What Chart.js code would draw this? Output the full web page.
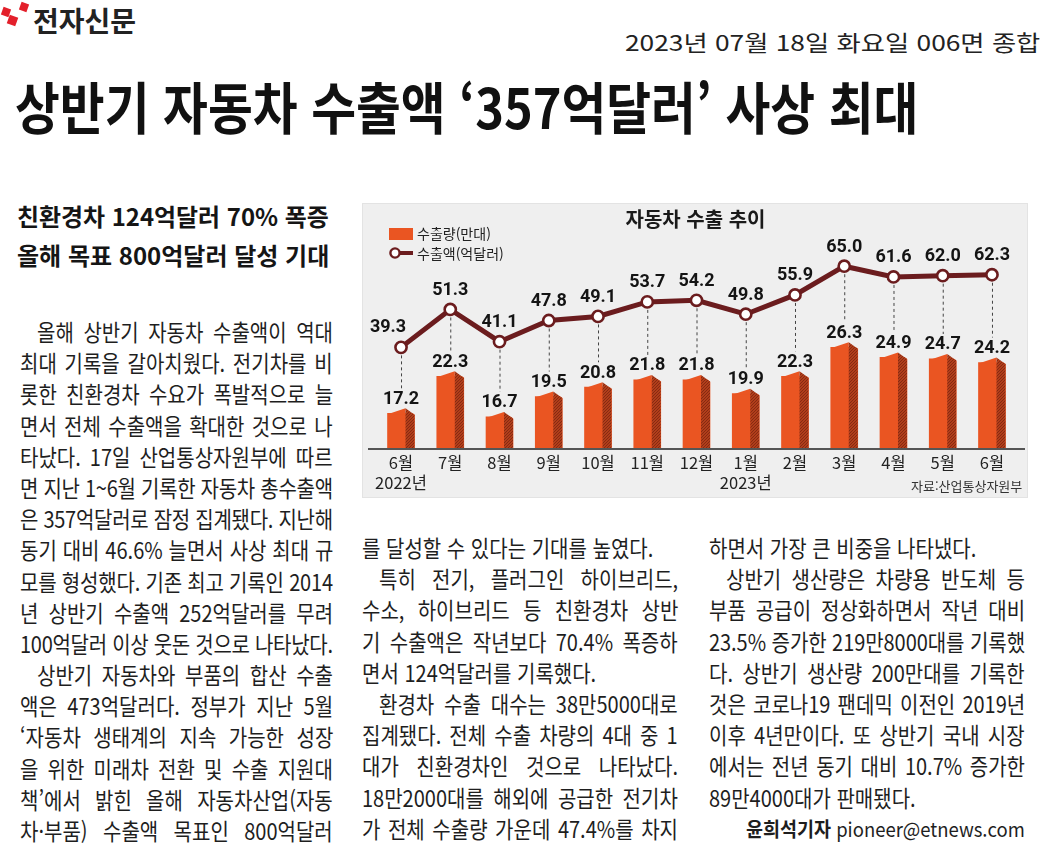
<!DOCTYPE html>
<html lang="ko">
<head>
<meta charset="utf-8">
<title>상반기 자동차 수출액 ‘357억달러’ 사상 최대</title>
<script src="https://cdn.jsdelivr.net/npm/chart.js@4.4.0/dist/chart.umd.min.js"></script>
<style>
  html, body { margin: 0; padding: 0; background: #fff; }
  body { width: 1044px; height: 859px; position: relative; overflow: hidden;
         font-family: "Noto Sans CJK KR", "Noto Sans", sans-serif; color: #1c1c1c; }
  .abs { position: absolute; white-space: nowrap; }
  .fit { display: inline-block; transform-origin: 0 0; }
  .logo-dot { position: absolute; width: 8px; height: 8px; background: #e3202b; transform: rotate(20deg); }
  .col { position: absolute; transform-origin: 0 0; font-size: 23px; line-height: 31.2px; color: #1e1e1e; }
  .ln { height: 31.2px; white-space: nowrap; }
  .ln span { display: inline-block; white-space: nowrap; }
  #panel { position: absolute; left: 362px; top: 203px; width: 666px; height: 295px;
           background: #efefef; box-sizing: border-box; border: 1px solid #e3e3e3; }
  #chartbox { position: absolute; left: 362px; top: 203px; width: 666px; height: 295px; }
</style>
</head>
<body>

<!-- 머리 -->
<div class="logo-dot" style="left:2px;top:8px"></div>
<div class="logo-dot" style="left:20px;top:3px"></div>
<div class="logo-dot" style="left:8px;top:16px;width:9px;height:9px"></div>
<div class="abs" style="left:33px;top:6px;font-size:28px;line-height:28px;font-weight:700;color:#222">전자신문</div>
<div class="abs fit" data-w="415" style="left:625px;top:30px;font-size:22px;line-height:22px;color:#222">2023년 07월 18일 화요일 006면 종합</div>

<div class="abs fit" data-w="903" style="left:15px;top:77px;font-size:56px;line-height:56px;font-weight:700;color:#111">상반기 자동차 수출액 ‘357억달러’ 사상 최대</div>

<div class="abs fit" data-w="312" style="left:17px;top:204px;font-size:24px;line-height:24px;font-weight:700;color:#151515">친환경차 124억달러 70% 폭증</div>
<div class="abs fit" data-w="312" style="left:17px;top:243px;font-size:24px;line-height:24px;font-weight:700;color:#151515">올해 목표 800억달러 달성 기대</div>

<!-- 본문 1단 -->
<div class="col" style="left:20px;top:316px" data-w="313" data-s="0.87">
  <div class="ln in"><span>올해 상반기 자동차 수출액이 역대</span></div>
  <div class="ln"><span>최대 기록을 갈아치웠다. 전기차를 비</span></div>
  <div class="ln"><span>롯한 친환경차 수요가 폭발적으로 늘</span></div>
  <div class="ln"><span>면서 전체 수출액을 확대한 것으로 나</span></div>
  <div class="ln"><span>타났다. 17일 산업통상자원부에 따르</span></div>
  <div class="ln"><span>면 지난 1~6월 기록한 자동차 총수출액</span></div>
  <div class="ln"><span>은 357억달러로 잠정 집계됐다. 지난해</span></div>
  <div class="ln"><span>동기 대비 46.6% 늘면서 사상 최대 규</span></div>
  <div class="ln"><span>모를 형성했다. 기존 최고 기록인 2014</span></div>
  <div class="ln"><span>년 상반기 수출액 252억달러를 무려</span></div>
  <div class="ln"><span>100억달러 이상 웃돈 것으로 나타났다.</span></div>
  <div class="ln in"><span>상반기 자동차와 부품의 합산 수출</span></div>
  <div class="ln"><span>액은 473억달러다. 정부가 지난 5월</span></div>
  <div class="ln"><span>‘자동차 생태계의 지속 가능한 성장</span></div>
  <div class="ln"><span>을 위한 미래차 전환 및 수출 지원대</span></div>
  <div class="ln"><span>책’에서 밝힌 올해 자동차산업(자동</span></div>
  <div class="ln"><span>차·부품) 수출액 목표인 800억달러</span></div>
</div>

<!-- 본문 2단 -->
<div class="col" style="left:362px;top:532px" data-w="316" data-s="0.87">
  <div class="ln end"><span>를 달성할 수 있다는 기대를 높였다.</span></div>
  <div class="ln in"><span>특히 전기, 플러그인 하이브리드,</span></div>
  <div class="ln"><span>수소, 하이브리드 등 친환경차 상반</span></div>
  <div class="ln"><span>기 수출액은 작년보다 70.4% 폭증하</span></div>
  <div class="ln end"><span>면서 124억달러를 기록했다.</span></div>
  <div class="ln in"><span>환경차 수출 대수는 38만5000대로</span></div>
  <div class="ln"><span>집계됐다. 전체 수출 차량의 4대 중 1</span></div>
  <div class="ln"><span>대가 친환경차인 것으로 나타났다.</span></div>
  <div class="ln"><span>18만2000대를 해외에 공급한 전기차</span></div>
  <div class="ln"><span>가 전체 수출량 가운데 47.4%를 차지</span></div>
</div>

<!-- 본문 3단 -->
<div class="col" style="left:709px;top:532px" data-w="316" data-s="0.87">
  <div class="ln end"><span>하면서 가장 큰 비중을 나타냈다.</span></div>
  <div class="ln in"><span>상반기 생산량은 차량용 반도체 등</span></div>
  <div class="ln"><span>부품 공급이 정상화하면서 작년 대비</span></div>
  <div class="ln"><span>23.5% 증가한 219만8000대를 기록했</span></div>
  <div class="ln"><span>다. 상반기 생산량 200만대를 기록한</span></div>
  <div class="ln"><span>것은 코로나19 팬데믹 이전인 2019년</span></div>
  <div class="ln"><span>이후 4년만이다. 또 상반기 국내 시장</span></div>
  <div class="ln"><span>에서는 전년 동기 대비 10.7% 증가한</span></div>
  <div class="ln end"><span>89만4000대가 판매됐다.</span></div>
</div>
<div class="abs fit" data-w="279" style="left:746px;top:818px;font-size:20px;line-height:22px;color:#1e1e1e"><b>윤희석기자</b> pioneer@etnews.com</div>

<!-- 그래픽 -->
<div id="panel"></div>
<div id="chartbox"><canvas id="grafica"></canvas></div>
<div class="abs" style="left:623px;top:209px;width:145px;text-align:center;font-size:20px;line-height:20px;font-weight:700;color:#1a1a1a">자동차 수출 추이</div>
<div class="abs" style="left:389px;top:228px;width:24px;height:12px;background:#ea5522"></div>
<div class="abs" style="left:417px;top:225px;font-size:14px;line-height:16px;color:#222">수출량(만대)</div>
<svg class="abs" style="left:388px;top:246px" width="28" height="14">
  <line x1="7" y1="7" x2="25" y2="7" stroke="#6b1c1e" stroke-width="4"/>
  <circle cx="7" cy="7" r="4.6" fill="#fff" stroke="#6b1c1e" stroke-width="2.4"/>
</svg>
<div class="abs" style="left:417px;top:245px;font-size:14px;line-height:16px;color:#222">수출액(억달러)</div>
<div class="abs" style="left:911px;top:478px;font-size:13px;line-height:16px;color:#333">자료:산업통상자원부</div>

<script>
// 자동차 수출 추이 (2022년 6월 ~ 2023년 6월)
const meses = [['6월', '2022년'], '7월', '8월', '9월', '10월', '11월', '12월', ['1월', '2023년'], '2월', '3월', '4월', '5월', '6월'];
const suchulryang = [17.2, 22.3, 16.7, 19.5, 20.8, 21.8, 21.8, 19.9, 22.3, 26.3, 24.9, 24.7, 24.2];  // 수출량(만대)
const suchulaek = [39.3, 51.3, 41.1, 47.8, 49.1, 53.7, 54.2, 49.8, 55.9, 65.0, 61.6, 62.0, 62.3];    // 수출액(억달러)

const FRONT = '#ea5522';
const SIDE_W = 9;
const LINE_COLOR = '#6b1c1e';

// 본문 줄 맞춤 (양쪽 정렬 + 장평)
function ajustarColumnas() {
    document.querySelectorAll('.col').forEach((col) => {
        const s = parseFloat(col.dataset.s);
        const W = parseFloat(col.dataset.w) / s;
        const indent = 17 / s;
        col.style.width = W + 'px';
        col.style.transform = 'scaleX(' + s + ')';
        col.querySelectorAll('.ln').forEach((ln) => {
            const sp = ln.firstElementChild;
            const ind = ln.classList.contains('in') ? indent : 0;
            if (ind) ln.style.paddingLeft = ind + 'px';
            const target = W - ind;
            const w = sp.offsetWidth;
            const huecos = (sp.textContent.match(/ /g) || []).length;
            if (w > target) {
                sp.style.letterSpacing = (-(w - target) / sp.textContent.length) + 'px';
            } else if (!ln.classList.contains('end') && huecos) {
                sp.style.wordSpacing = ((target - w) / huecos) + 'px';
            }
        });
    });
    document.querySelectorAll('.fit').forEach((el) => {
        const target = parseFloat(el.dataset.w);
        el.style.transform = 'scaleX(' + (target / el.offsetWidth) + ')';
    });
}

// 옆면 무늬
function patronLado(ctx) {
    const c = document.createElement('canvas');
    c.width = 3; c.height = 3;
    const g = c.getContext('2d');
    g.fillStyle = '#b13e1b';
    g.fillRect(0, 0, 3, 3);
    g.fillStyle = '#862a11';
    g.fillRect(0, 0, 1, 1);
    g.fillRect(2, 1, 1, 1);
    g.fillRect(1, 2, 1, 1);
    return ctx.createPattern(c, 'repeat');
}

const decor = {
    id: 'decor',
    beforeDatasetsDraw(chart) {
        const { ctx, chartArea } = chart;
        ctx.save();
        ctx.strokeStyle = '#555';
        ctx.lineWidth = 2;
        ctx.beginPath();
        ctx.moveTo(6, chartArea.bottom + 1);
        ctx.lineTo(chart.width - 3, chartArea.bottom + 1);
        ctx.stroke();
        ctx.restore();
    },
    afterDatasetsDraw(chart) {
        const { ctx, chartArea } = chart;
        const puntos = chart.getDatasetMeta(0).data;
        const barras = chart.getDatasetMeta(1).data;
        const lado = patronLado(ctx);
        ctx.save();

        barras.forEach((b) => {
            const x0 = b.x - b.width / 2;
            const x1 = b.x + b.width / 2;
            const xj = x1 - SIDE_W;
            const base = Math.min(b.base, chartArea.bottom);
            // 앞면 윗변을 오른쪽으로 올려 입체감
            ctx.fillStyle = FRONT;
            ctx.beginPath();
            ctx.moveTo(x0, b.y + 1);
            ctx.lineTo(xj, b.y - 5);
            ctx.lineTo(xj, b.y + 1);
            ctx.closePath();
            ctx.fill();
            ctx.fillStyle = '#efefef';
            ctx.beginPath();
            ctx.moveTo(xj, b.y - 5);
            ctx.lineTo(x1 + 1, b.y + 2);
            ctx.lineTo(x1 + 1, b.y - 6);
            ctx.closePath();
            ctx.fill();
            ctx.fillStyle = lado;
            ctx.beginPath();
            ctx.moveTo(xj, b.y - 5);
            ctx.lineTo(x1, b.y + 1.5);
            ctx.lineTo(x1, base);
            ctx.lineTo(xj, base);
            ctx.closePath();
            ctx.fill();
        });

        // 점선
        ctx.strokeStyle = '#444';
        ctx.lineWidth = 1;
        ctx.setLineDash([3, 3]);
        puntos.forEach((p, i) => {
            const fin = barras[i].y - 25;
            ctx.beginPath();
            ctx.moveTo(p.x + 0.5, p.y + 8);
            ctx.lineTo(p.x + 0.5, fin);
            ctx.stroke();
        });
        ctx.setLineDash([]);

        // 수치
        ctx.font = 'bold 18px Roboto, "Noto Sans CJK KR", sans-serif';
        ctx.fillStyle = '#141414';
        ctx.textAlign = 'center';
        ctx.textBaseline = 'middle';
        barras.forEach((b, i) => {
            ctx.fillText(suchulryang[i].toFixed(1), b.x, b.y - 14);
        });
        puntos.forEach((p, i) => {
            // 첫 값은 선과 겹치지 않게 왼쪽 위로
            if (i === 0) ctx.fillText(suchulaek[i].toFixed(1), p.x - 13, p.y - 20);
            else ctx.fillText(suchulaek[i].toFixed(1), p.x, p.y - 19);
        });
        ctx.restore();
    }
};

window.addEventListener('load', () => {
    ajustarColumnas();

    const ctx = document.getElementById('grafica');
    new Chart(ctx, {
        data: {
            labels: meses,
            datasets: [{
                type: 'line',
                label: '수출액(억달러)',
                data: suchulaek,
                yAxisID: 'y2',
                borderColor: LINE_COLOR,
                borderWidth: 5,
                tension: 0,
                pointRadius: 5.6,
                pointBorderWidth: 2.6,
                pointBackgroundColor: '#fff',
                pointBorderColor: LINE_COLOR,
                clip: false
            }, {
                type: 'bar',
                label: '수출량(만대)',
                data: suchulryang,
                yAxisID: 'y',
                backgroundColor: FRONT,
                barThickness: 27,
                base: 12.41
            }]
        },
        options: {
            responsive: true,
            maintainAspectRatio: false,
            animation: false,
            layout: { padding: { left: 14.4, right: 11.4, top: 37, bottom: 0 } },
            plugins: { legend: { display: false }, tooltip: { enabled: false }, title: { display: false } },
            scales: {
                x: {
                    offset: true,
                    grid: { display: false, drawTicks: false },
                    border: { display: false },
                    ticks: {
                        autoSkip: false, maxRotation: 0, padding: 5, color: '#222',
                        font: { family: '"Noto Sans CJK KR", sans-serif', size: 16.5, lineHeight: 1.22 }
                    },
                    afterFit(scale) { scale.height = 50; }
                },
                y: { display: false, min: 12.41, max: 41.1 },
                y2: { display: false, position: 'right', min: 7.43, max: 73.3 }
            }
        },
        plugins: [decor]
    });
});
</script>
</body>
</html>
